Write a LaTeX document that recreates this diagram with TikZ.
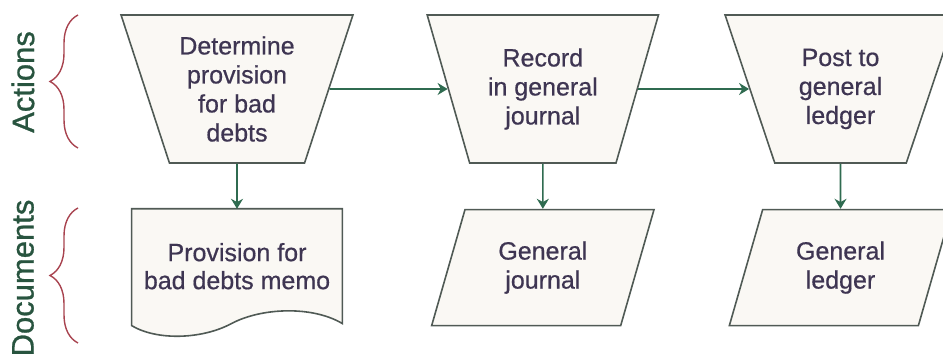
\documentclass[tikz,border=0pt]{standalone}
\usepackage{fontspec}
\setmainfont{Liberation Sans}
\newfontfamily\flowfont{Liberation Sans}[FakeBold=0.6]
\newfontfamily\lanefont{Liberation Sans}[FakeBold=0.9]
\usepackage{xcolor}
\usepackage{tikz}
\usetikzlibrary{arrows.meta, positioning, shapes.geometric, decorations.pathreplacing, backgrounds}
\definecolor{flowline}{HTML}{505A55}
\definecolor{flowarrow}{HTML}{2F6B50}
\definecolor{flowfill}{HTML}{FAF8F4}
\definecolor{flowtext}{HTML}{3E3552}
\definecolor{bracered}{HTML}{A8434F}
\definecolor{lanegreen}{HTML}{28543F}

\begin{document}
\begin{tikzpicture}[x=0.5pt, y=-0.5pt, >={Stealth[length=5pt, width=6pt]},
   action/.style={trapezium, shape border rotate=180, trapezium angle=68.6,
                  trapezium stretches=true, draw=flowline, line width=0.8pt,
                  fill=flowfill, minimum width=116pt, minimum height=74pt,
                  inner sep=0pt, align=center, text=flowtext,
                  font=\flowfont\fontsize{12.5}{14.5}\selectfont},
   journalbox/.style={trapezium, trapezium left angle=70, trapezium right angle=110,
                  trapezium stretches=true, draw=flowline, line width=0.8pt,
                  fill=flowfill, minimum width=111.5pt, minimum height=58pt,
                  inner sep=0pt, align=center, text=flowtext,
                  font=\flowfont\fontsize{12.5}{14.5}\selectfont},
   memobox/.style={rectangle, minimum width=105pt, minimum height=57pt,
                  inner sep=0pt, align=center, text=flowtext,
                  font=\flowfont\fontsize{12.5}{14}\selectfont},
   flow/.style={->, line width=0.8pt, flowarrow},
   lane/.style={rotate=90, text=lanegreen, font=\lanefont\fontsize{15.5}{18}\selectfont},
   lanebrace/.style={decorate, decoration={brace, amplitude=14pt, aspect=0.5},
                  bracered, line width=0.7pt}]
  \useasboundingbox (0,0) rectangle (943,356);

  % actions
  \node[action] (determine) at (237,89) {Determine\\provision\\for bad\\debts};
  \node[action, right=59pt of determine] (record) {Record\\in general\\journal};
  \node[action, right=55.5pt of record] (post) {Post to\\general\\ledger};

  % documents
  \node[memobox, below=22.5pt of determine] (memo) {Provision for\\bad debts memo};
  \begin{pgfonlayer}{background}
    \draw[draw=flowline, line width=0.8pt, fill=flowfill]
      (memo.north west) -- (memo.north east) -- (memo.south east)
      .. controls +(-30,-18) and +(30,-16) .. ([xshift=-55.5pt]memo.south east)
      .. controls +(-30,16) and +(25,15) .. ([yshift=-1pt]memo.south west) -- cycle;
  \end{pgfonlayer}
  \node[journalbox, below=22.5pt of record] (journal) {General\\journal};
  \node[journalbox, below=22.5pt of post] (ledger) {General\\ledger};

  \draw[flow] (determine) -- (record);
  \draw[flow] (record) -- (post);
  \draw[flow] (determine) -- (memo);
  \draw[flow] (record) -- (journal);
  \draw[flow] (post) -- (ledger);

  % lanes
  \node[lane] (actlbl) at (23,82) {Actions};
  \node[lane] (doclbl) at (23,278) {Documents};
  \draw[lanebrace] (78,148) -- (78,15);
  \draw[lanebrace] (78,343) -- (78,208);
\end{tikzpicture}
\end{document}
